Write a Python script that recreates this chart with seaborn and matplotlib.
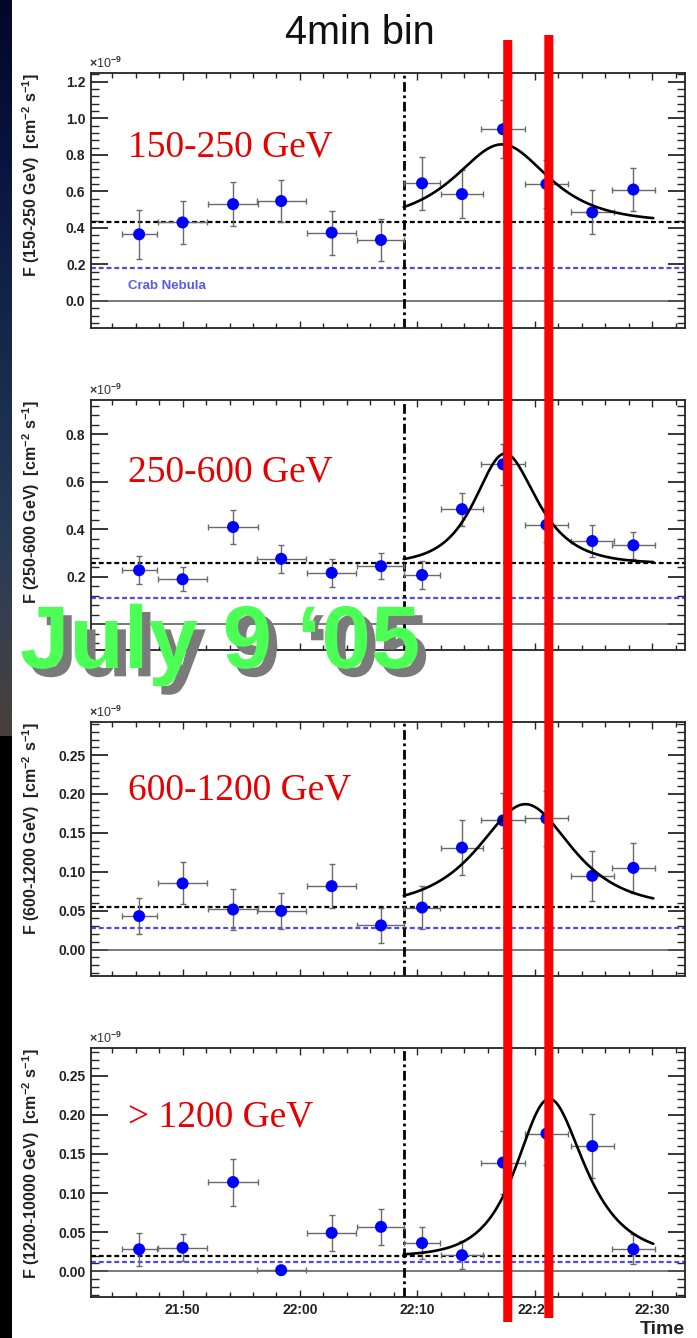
import numpy as np
import matplotlib
matplotlib.use("Agg")
import matplotlib.pyplot as plt
from matplotlib.patches import ConnectionPatch
from matplotlib.ticker import MultipleLocator, FixedLocator, FixedFormatter, FuncFormatter
from matplotlib.colors import LinearSegmentedColormap
import matplotlib.patheffects as pe
import seaborn as sns

# ---------------- data (time in minutes after 21:00 UT) ----------------
bin_time = [46.3, 50.0, 54.3, 58.4, 62.7, 66.9, 70.4, 73.8, 77.3, 81.0, 84.9, 88.4]
bin_halfwidth = [1.5, 2.1, 2.1, 2.1, 2.1, 2.0, 1.5, 1.8, 1.9, 1.85, 1.85, 1.85]

flux_150_250 = [0.365, 0.43, 0.53, 0.547, 0.374, 0.334, 0.644, 0.585, 0.94, 0.64, 0.485, 0.61]
err_150_250 = [0.135, 0.12, 0.12, 0.115, 0.12, 0.115, 0.145, 0.13, 0.16, 0.13, 0.12, 0.12]

flux_250_600 = [0.227, 0.189, 0.409, 0.275, 0.216, 0.244, 0.207, 0.484, 0.673, 0.418, 0.35, 0.332]
err_250_600 = [0.06, 0.05, 0.07, 0.058, 0.058, 0.055, 0.06, 0.07, 0.085, 0.07, 0.067, 0.057]

flux_600_1200 = [0.043, 0.085, 0.0515, 0.0497, 0.0815, 0.031, 0.054, 0.131, 0.166, 0.1685, 0.0948, 0.105]
err_600_1200 = [0.023, 0.027, 0.026, 0.023, 0.028, 0.022, 0.028, 0.035, 0.035, 0.035, 0.032, 0.032]

flux_1200_up = [0.028, 0.030, 0.114, 0.0013, 0.049, 0.0567, 0.036, 0.0205, 0.139, 0.176, 0.160, 0.028]
err_1200_up = [0.021, 0.017, 0.030, 0.003, 0.023, 0.023, 0.020, 0.018, 0.040, 0.040, 0.041, 0.019]

band_titles = ["150-250 GeV", "250-600 GeV", "600-1200 GeV", "> 1200 GeV"]
band_ylabels = ["F (150-250 GeV)  [cm$^{-2}$ s$^{-1}$]",
                "F (250-600 GeV)  [cm$^{-2}$ s$^{-1}$]",
                "F (600-1200 GeV)  [cm$^{-2}$ s$^{-1}$]",
                "F (1200-10000 GeV)  [cm$^{-2}$ s$^{-1}$]"]

# pre-flare mean flux and Crab Nebula reference level (units of 1e-9)
mean_level = [0.434, 0.256, 0.0548, 0.0196]
crab_level = [0.179, 0.109, 0.0278, 0.012]

# flare fit: F = base + 2A / (exp(-(t-t0)/tau_r) + exp((t-t0)/tau_d))
fit_start, fit_end = 68.84, 90.1
fit_peak_time = [77.3, 77.3, 79.3, 81.0]
fit_amplitude = [0.423, 0.461, 0.132, 0.200]
fit_tau_rise = [3.6, 2.15, 3.6, 2.3]
fit_tau_decay = [3.4, 2.5, 3.4, 2.8]

time_ticks = [50, 60, 70, 80, 90]
time_ticklabels = ["21:50", "22:00", "22:10", "22:20", "22:30"]
marker_times = [77.7, 81.2]

fluxes = [flux_150_250, flux_250_600, flux_600_1200, flux_1200_up]
errors = [err_150_250, err_250_600, err_600_1200, err_1200_up]

# ---------------- style ----------------
sns.set_theme(style="white")
plt.rcParams["font.family"] = ["Liberation Sans", "DejaVu Sans"]
plt.rcParams["mathtext.fontset"] = "custom"
plt.rcParams["mathtext.rm"] = "Liberation Sans:bold"
plt.rcParams["mathtext.it"] = "Liberation Sans:bold"
plt.rcParams["mathtext.bf"] = "Liberation Sans:bold"

W, H = 697, 1338
fig = plt.figure(figsize=(W / 100, H / 100), dpi=100, facecolor="white")

# dark slide edge on the left
edge = fig.add_axes([0, 0, 12 / W, 1], zorder=-5)
edge_cmap = LinearSegmentedColormap.from_list(
    "edge", [(0.0, "#03072a"), (0.12, "#081540"), (0.3, "#1a2e50"),
             (0.42, "#2c3c55"), (0.5, "#3e4148"), (0.55, "#4a3f3a"),
             (0.553, "#000000"), (1.0, "#000000")])
edge.imshow(np.linspace(0, 1, 400)[:, None], cmap=edge_cmap, aspect="auto",
            extent=[0, 1, 1, 0])
edge.axis("off")

ax_left, ax_right = 91, 685
panel_px = [(73, 328), (400, 650), (722, 976), (1048, 1297)]
ylims = [(-0.148, 1.248), (-0.109, 0.944), (-0.034, 0.2925), (-0.033, 0.2855)]
ymajor = [0.2, 0.2, 0.05, 0.05]
yminor = [0.04, 0.04, 0.01, 0.01]
ydigits = [1, 1, 2, 2]
title_y = [0.671, 0.673, 0.693, 0.684]


def flux_formatter(digits, hide_zero):
    def fmt(v, pos):
        if hide_zero and abs(v) < 1e-9:
            return ""
        return f"{v:.{digits}f}"
    return FuncFormatter(fmt)


axes = []
for i, (top, bot) in enumerate(panel_px):
    ax = fig.add_axes([ax_left / W, 1 - bot / H, (ax_right - ax_left) / W, (bot - top) / H])
    axes.append(ax)
    t = np.array(bin_time)
    f = np.array(fluxes[i])

    ax.axhline(0, color="#555555", lw=1.1, zorder=1)
    ax.axhline(crab_level[i], color="#4a4af0", lw=1.6, ls=(0, (2.2, 1.3)), zorder=1)
    ax.axhline(mean_level[i], color="black", lw=1.6, ls=(0, (2.2, 1.3)), zorder=1)
    ax.axvline(fit_start, color="black", lw=2.0, ls=(0, (3.5, 1.3, 1, 1.3)), zorder=2)

    ax.errorbar(t, f, xerr=bin_halfwidth, yerr=errors[i], fmt="none",
                ecolor="#6a6a6a", elinewidth=1.0, capsize=2.5, capthick=1.0, zorder=3)
    sns.scatterplot(x=t, y=f, ax=ax, color="#0000ff", s=75, edgecolor="none",
                    zorder=4, legend=False)

    tf = np.linspace(fit_start, fit_end, 300)
    dt = tf - fit_peak_time[i]
    model = mean_level[i] + 2 * fit_amplitude[i] / (
        np.exp(-dt / fit_tau_rise[i]) + np.exp(dt / fit_tau_decay[i]))
    sns.lineplot(x=tf, y=model, ax=ax, color="black", lw=1.9, estimator=None,
                 sort=False, zorder=5)

    ax.set_xlim(42.2, 92.8)
    ax.set_ylim(*ylims[i])
    ax.yaxis.set_major_locator(MultipleLocator(ymajor[i]))
    ax.yaxis.set_minor_locator(MultipleLocator(yminor[i]))
    # the zero label of the second panel sits beneath the date banner
    ax.yaxis.set_major_formatter(flux_formatter(ydigits[i], hide_zero=(i == 1)))
    ax.xaxis.set_major_locator(FixedLocator(time_ticks))
    ax.xaxis.set_minor_locator(MultipleLocator(2))
    if i == 3:
        ax.xaxis.set_major_formatter(FixedFormatter(time_ticklabels))
    else:
        ax.set_xticklabels([])

    ax.tick_params(axis="y", which="major", direction="in", length=12, width=1.3,
                   left=True, right=True, labelsize=10, pad=4, labelcolor="#222222")
    ax.tick_params(axis="y", which="minor", direction="in", length=6, width=1.0,
                   left=True, right=True)
    ax.tick_params(axis="x", which="major", direction="in", length=5, width=1.0,
                   top=True, bottom=True, labelsize=10, pad=4, labelcolor="#222222")
    ax.tick_params(axis="x", which="minor", direction="in", length=3.5, width=1.0,
                   top=True, bottom=True)
    for lab in ax.get_yticklabels() + ax.get_xticklabels():
        lab.set_fontweight("bold")
    for s in ax.spines.values():
        s.set_color("#222222")
        s.set_linewidth(1.3)

    ax.set_xlabel("")
    ax.set_ylabel(band_ylabels[i], fontsize=11.5, fontweight="bold", loc="top",
                  color="#222222")
    ax.yaxis.set_label_coords(-0.083, 1.0)

    ax.text(-0.003, 1.008, r"$\times$10$^{-9}$", transform=ax.transAxes, fontsize=9,
            ha="left", va="bottom", color="#333333",
            fontfamily=["Liberation Sans", "DejaVu Sans"])
    ax.text(0.0623, title_y[i], band_titles[i], transform=ax.transAxes,
            fontsize=27, color="#e60000", fontfamily=["Liberation Serif", "DejaVu Serif"],
            ha="left", va="baseline")
    if i == 0:
        ax.text(0.0623, 0.165, "Crab Nebula", transform=ax.transAxes, fontsize=9.5,
                fontweight="bold", color="#5a5af0", ha="left", va="center")

axes[3].text(1.0, -0.148, "Time", transform=axes[3].transAxes, fontsize=14,
             fontweight="bold", ha="right", va="baseline", color="#222222")

# red markers spanning all panels
for k, tm in enumerate(marker_times):
    top_frac = (panel_px[0][1] - (40 - 5 * k)) / (panel_px[0][1] - panel_px[0][0])
    bot_frac = (panel_px[3][1] - (1322 - 4 * k)) / (panel_px[3][1] - panel_px[3][0])
    con = ConnectionPatch(xyA=(tm, top_frac), coordsA=axes[0].get_xaxis_transform(),
                          xyB=(tm, bot_frac), coordsB=axes[3].get_xaxis_transform(),
                          color="#ff0000", lw=6.5, zorder=6, capstyle="butt")
    fig.add_artist(con)

fig.text(360 / W, 1 - 44 / H, "4min bin", fontsize=28.5, ha="center", va="baseline",
         color="#111111")

fig.text(20 / W, 1 - 668 / H, "July 9 \u201805", fontsize=64, fontweight="bold",
         color="#4cff55", ha="left", va="baseline", zorder=8,
         path_effects=[pe.SimplePatchShadow(offset=(6, -6), shadow_rgbFace="#7a7a7a",
                                            alpha=1.0),
                       pe.Normal()])

fig.savefig("out.png", dpi=100, facecolor="white")
